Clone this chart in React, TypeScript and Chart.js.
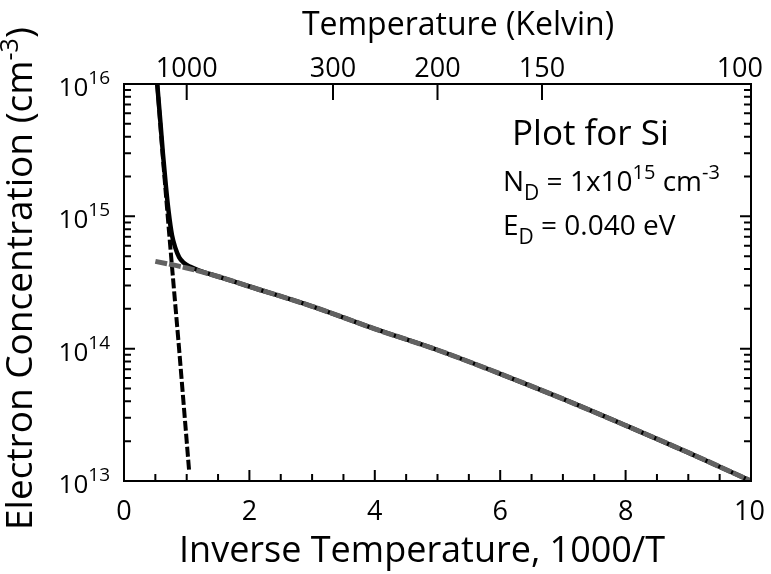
import React, { useEffect, useRef } from 'react';
import { Chart, registerables } from 'chart.js';

Chart.register(...registerables);

// ---- Data ----
// Total electron concentration (solid black)
const totalInvT = [0.53, 0.58, 0.62, 0.67, 0.71, 0.765, 0.82, 0.88, 0.95, 1.05, 1.2, 1.5, 2, 3, 4, 5, 6, 7, 8, 9, 10];
const totalN = [1e16, 5.2e15, 3.0e15, 1.66e15, 1.1e15, 7.2e14, 5.75e14, 4.9e14, 4.47e14, 4.17e14, 3.89e14, 3.51e14, 2.95e14, 2.09e14, 1.41e14, 9.77e13, 6.46e13, 4.17e13, 2.63e13, 1.64e13, 1.0e13];

// Intrinsic concentration (black dashed)
const intrinsicInvT = [0.53, 0.62, 0.71, 0.8, 0.88, 0.96, 1.04];
const intrinsicN = [1e16, 2.8e15, 8.5e14, 2.7e14, 9.8e13, 3.4e13, 1.17e13];

// Extrinsic / freeze-out concentration (gray dashed)
const extrinsicInvT = [0.5, 1, 1.5, 2, 3, 4, 5, 6, 7, 8, 9, 10];
const extrinsicN = [4.57e14, 4.07e14, 3.51e14, 2.95e14, 2.09e14, 1.41e14, 9.77e13, 6.46e13, 4.17e13, 2.63e13, 1.64e13, 1.0e13];

// Axis ticks
const xTickLabels = [0, 2, 4, 6, 8, 10];
const yTickExponents = [13, 14, 15, 16];
const topTemperatures = [1000, 300, 200, 150, 100];

const FONT = '"Open Sans", "Noto Sans", sans-serif';
const W = 771;

type Seg = { t: string; size: number; dy: number };

function richWidth(ctx: CanvasRenderingContext2D, segs: Seg[]) {
  let w = 0;
  for (const s of segs) {
    ctx.font = `${s.size}px ${FONT}`;
    w += ctx.measureText(s.t).width;
  }
  return w;
}

function drawRich(ctx: CanvasRenderingContext2D, segs: Seg[], x: number, baseline: number, align: 'left' | 'center' | 'right') {
  const w = richWidth(ctx, segs);
  let cx = align === 'left' ? x : align === 'center' ? x - w / 2 : x - w;
  ctx.textAlign = 'left';
  ctx.textBaseline = 'alphabetic';
  for (const s of segs) {
    ctx.font = `${s.size}px ${FONT}`;
    ctx.fillText(s.t, cx, baseline + s.dy);
    cx += ctx.measureText(s.t).width;
  }
}

const decorPlugin = {
  id: 'decor',
  afterDraw(chart: any) {
    const ctx: CanvasRenderingContext2D = chart.ctx;
    const { left, right, top, bottom } = chart.chartArea;
    const xs = chart.scales.x;
    const ys = chart.scales.y;
    ctx.save();
    ctx.strokeStyle = '#000';
    ctx.fillStyle = '#000';
    ctx.lineWidth = 2;
    ctx.lineCap = 'butt';

    // frame
    ctx.strokeRect(left, top, right - left, bottom - top);

    // bottom ticks (inward)
    ctx.beginPath();
    for (let i = 1; i < 20; i++) {
      const v = i * 0.5;
      const px = xs.getPixelForValue(v);
      const len = v % 2 === 0 ? 11 : 7;
      ctx.moveTo(px, bottom);
      ctx.lineTo(px, bottom - len);
    }
    // left & right ticks (inward)
    for (let e = 13; e <= 15; e++) {
      for (let m = 1; m <= 9; m++) {
        const py = ys.getPixelForValue(m * Math.pow(10, e));
        const len = m === 1 ? 11 : 7;
        ctx.moveTo(left, py);
        ctx.lineTo(left + len, py);
        ctx.moveTo(right, py);
        ctx.lineTo(right - len, py);
      }
    }
    // top ticks at temperatures
    for (const T of topTemperatures) {
      const px = xs.getPixelForValue(1000 / T);
      ctx.moveTo(px, top);
      ctx.lineTo(px, top + 16);
    }
    ctx.stroke();

    // bottom tick labels
    ctx.font = `27px ${FONT}`;
    ctx.textAlign = 'center';
    ctx.textBaseline = 'alphabetic';
    for (const v of xTickLabels) {
      const label = String(v);
      const w = ctx.measureText(label).width;
      const px = Math.min(xs.getPixelForValue(v), W - 6 - w / 2);
      ctx.fillText(label, px, 520);
    }

    // top tick labels
    for (const T of topTemperatures) {
      const label = String(T);
      const w = ctx.measureText(label).width;
      const px = Math.min(xs.getPixelForValue(1000 / T), W - 8 - w / 2);
      ctx.fillText(label, px, 77);
    }

    // left tick labels 10^n
    for (const e of yTickExponents) {
      const py = ys.getPixelForValue(Math.pow(10, e));
      drawRich(ctx, [
        { t: '10', size: 26, dy: 0 },
        { t: String(e), size: 19, dy: -12 },
      ], 110, py + 12, 'right');
    }

    // bottom title
    drawRich(ctx, [{ t: 'Inverse Temperature, 1000/T', size: 36, dy: 0 }], 422, 562, 'center');

    // top title
    drawRich(ctx, [{ t: 'Temperature (Kelvin)', size: 32, dy: 0 }], 458, 35, 'center');

    // y title (rotated)
    ctx.save();
    ctx.translate(32, 530);
    ctx.rotate(-Math.PI / 2);
    drawRich(ctx, [
      { t: 'Electron Concentration (cm', size: 37, dy: 0 },
      { t: '-3', size: 25, dy: -14 },
      { t: ')', size: 37, dy: 0 },
    ], 0, 0, 'left');
    ctx.restore();

    // annotation
    drawRich(ctx, [{ t: 'Plot for Si', size: 35, dy: 0 }], 512, 145, 'left');
    drawRich(ctx, [
      { t: 'N', size: 28, dy: 0 },
      { t: 'D', size: 21, dy: 9 },
      { t: ' = 1x10', size: 28, dy: 0 },
      { t: '15', size: 20, dy: -12 },
      { t: ' cm', size: 28, dy: 0 },
      { t: '-3', size: 20, dy: -12 },
    ], 503, 191, 'left');
    drawRich(ctx, [
      { t: 'E', size: 28, dy: 0 },
      { t: 'D', size: 21, dy: 9 },
      { t: ' = 0.040 eV', size: 28, dy: 0 },
    ], 503, 235, 'left');

    ctx.restore();
  },
};

function toPoints(xs: number[], ys: number[]) {
  return xs.map((x, i) => ({ x, y: ys[i] }));
}

export default function App() {
  const ref = useRef<HTMLCanvasElement | null>(null);

  useEffect(() => {
    if (!ref.current) return;
    const chart = new Chart(ref.current, {
      type: 'line',
      data: {
        datasets: [
          {
            label: 'Extrinsic',
            data: toPoints(extrinsicInvT, extrinsicN),
            borderColor: '#626262',
            borderWidth: 5,
            borderDash: [12, 2],
            pointRadius: 0,
            cubicInterpolationMode: 'monotone',
            order: 0,
            clip: 0,
          },
          {
            label: 'Intrinsic',
            data: toPoints(intrinsicInvT, intrinsicN),
            borderColor: '#000',
            borderWidth: 4,
            borderDash: [10, 3],
            pointRadius: 0,
            cubicInterpolationMode: 'monotone',
            order: 1,
            clip: 0,
          },
          {
            label: 'Total',
            data: toPoints(totalInvT, totalN),
            borderColor: '#000',
            borderWidth: 4.5,
            pointRadius: 0,
            cubicInterpolationMode: 'monotone',
            order: 2,
            clip: 0,
          },
        ] as any,
      },
      options: {
        animation: false,
        responsive: false,
        devicePixelRatio: 1,
        layout: { padding: { left: 124, right: 20, top: 84, bottom: 93 } },
        plugins: { legend: { display: false }, tooltip: { enabled: false } },
        scales: {
          x: { type: 'linear', min: 0, max: 10, display: false },
          y: { type: 'logarithmic', min: 1e13, max: 1e16, display: false },
        },
      },
      plugins: [decorPlugin],
    });
    return () => chart.destroy();
  }, []);

  return (
    <div style={{ position: 'fixed', left: 0, top: 0, width: 771, height: 574, background: '#fff' }}>
      <canvas ref={ref} width={771} height={574} style={{ display: 'block' }} />
    </div>
  );
}
